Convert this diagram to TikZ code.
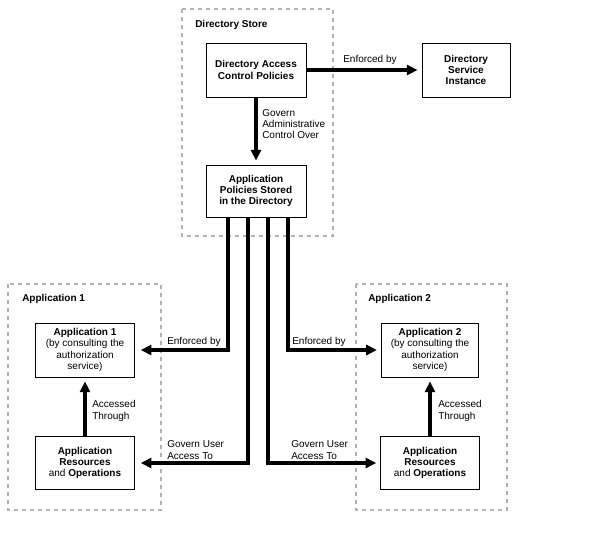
\documentclass[tikz,border=0pt]{standalone}
\usepackage{fontspec}
\setmainfont{Liberation Sans}
\usepackage{tikz}
\usetikzlibrary{positioning,calc,arrows.meta}

\begin{document}
\begin{tikzpicture}[x=0.75pt, y=-0.75pt,
    every node/.style={font=\fontsize{7.5}{8.5}\selectfont},
    box/.style={draw, line width=0.65pt, align=center, inner sep=1pt, minimum width=75pt, minimum height=40.5pt},
    region/.style={draw=gray!60, line width=1.6pt, dash pattern=on 3pt off 3pt},
    flow/.style={line width=2.4pt, -{Triangle[length=8pt,width=7.5pt]}, shorten >=3pt},
    lbl/.style={anchor=west, align=left, inner sep=0pt}]
    \useasboundingbox (0,0) rectangle (592,544);

    % Directory store
    \draw[region] (182,9) rectangle (333,236);
    \node[lbl] (storelbl) at (195,25) {\textbf{Directory Store}};
    \node[box] (dacp) at (256,70) {\textbf{Directory Access}\\\textbf{Control Policies}};
    \node[box, minimum width=66pt] (dsi) at (466,70) {\textbf{Directory}\\\textbf{Service}\\\textbf{Instance}};
    \node[box, minimum height=39pt] (apsd) at (256,191) {\textbf{Application}\\\textbf{Policies Stored}\\\textbf{in the Directory}};

    \draw[flow] (dacp) -- (dsi);
    \node[lbl] (enf0) at (343,60) {Enforced by};
    \draw[flow] (dacp) -- (apsd);
    \node[lbl] (gov0) at (262,124) {Govern\\Administrative\\Control Over};

    % Application 1
    \draw[region] (8,284) rectangle (161,510);
    \node[lbl] (app1lbl) at (22,299) {\textbf{Application 1}};
    \node[box, minimum width=74pt] (app1) at (85,350) {\textbf{Application 1}\\(by consulting the\\authorization\\service)};
    \node[box, minimum width=74pt, minimum height=40pt] (res1) at (85,463) {\textbf{Application}\\\textbf{Resources}\\and \textbf{Operations}};
    \draw[flow] (res1) -- (app1);
    \node[lbl] (acc1) at (92,411) {Accessed\\Through};

    % Application 2
    \draw[region] (356,284) rectangle (507,510);
    \node[lbl] (app2lbl) at (368,299) {\textbf{Application 2}};
    \node[box, minimum width=73pt] (app2) at (430,350) {\textbf{Application 2}\\(by consulting the\\authorization\\service)};
    \node[box, minimum width=74pt, minimum height=40pt] (res2) at (430,463) {\textbf{Application}\\\textbf{Resources}\\and \textbf{Operations}};
    \draw[flow] (res2) -- (app2);
    \node[lbl] (acc2) at (438,411) {Accessed\\Through};

    % Policy links
    \coordinate (p1) at ([xshift=-21pt]apsd.south);
    \coordinate (p2) at ([xshift=-6pt]apsd.south);
    \coordinate (p3) at ([xshift=9pt]apsd.south);
    \coordinate (p4) at ([xshift=24pt]apsd.south);
    \draw[flow, shorten >=4.5pt] (p1) |- (app1);
    \draw[flow, shorten >=4.5pt] (p2) |- (res1);
    \draw[flow] (p3) |- (res2);
    \draw[flow] (p4) |- (app2);
    \node[lbl] (enf1) at (167,342) {Enforced by};
    \node[lbl] (gov1) at (167,450) {Govern User\\Access To};
    \node[lbl] (enf2) at (292,342) {Enforced by};
    \node[lbl] (gov2) at (291,450) {Govern User\\Access To};
\end{tikzpicture}
\end{document}
